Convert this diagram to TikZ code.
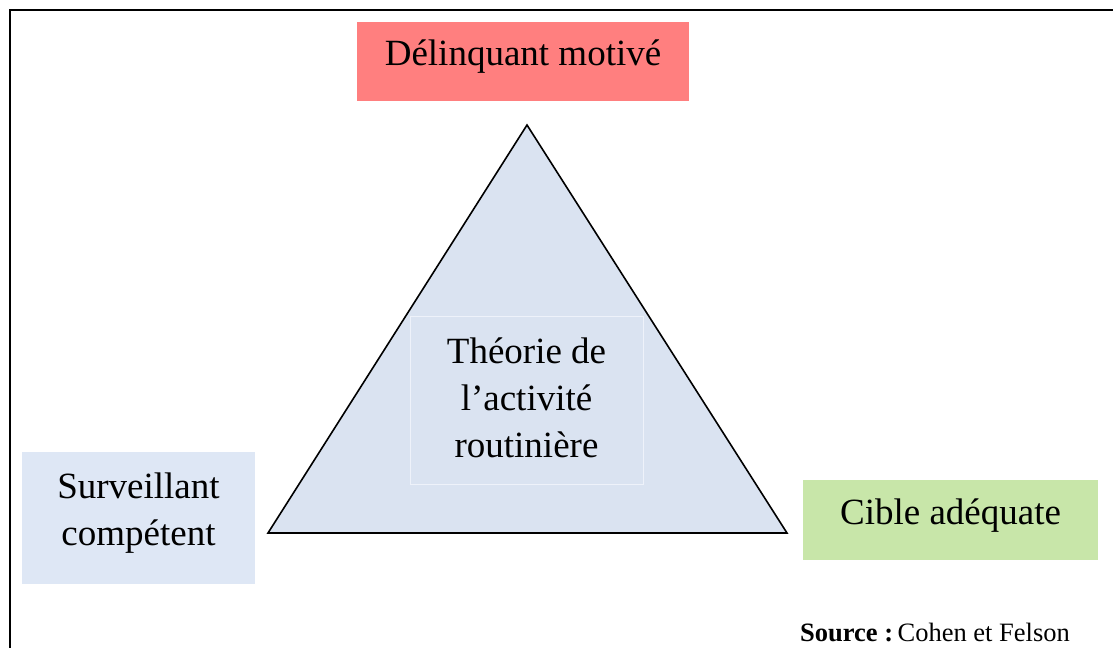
\documentclass[tikz,border=0pt]{standalone}
\usepackage{fontspec}
\setmainfont{Liberation Serif}
\definecolor{redbox}{HTML}{FF7F7F}
\definecolor{bluebox}{HTML}{DEE7F5}
\definecolor{greenbox}{HTML}{C8E6A9}
\definecolor{trifill}{HTML}{DAE3F1}
\definecolor{innerline}{HTML}{EEF2FA}
\begin{document}
\begin{tikzpicture}[x=1pt,y=-1pt,
  lbl/.style={inner sep=0pt,outer sep=0pt,align=center,font=\fontsize{37}{47}\selectfont},
  boxx/.style={inner sep=0pt,outer sep=0pt,draw=none}]
\useasboundingbox (0,0) rectangle (1113,648);
% frame
\coordinate (fr1) at (1113,10);
\coordinate (fr2) at (10,10);
\coordinate (fr3) at (10,648);
\draw[line width=2pt] (fr1) -- (fr2) -- (fr3);
% triangle
\coordinate (apex) at (527,125);
\coordinate (bl) at (268,533);
\coordinate (br) at (787,533);
\draw[fill=trifill,line width=1.6pt,line join=miter] (apex) -- (bl) -- (br) -- cycle;
% inner box
\node[boxx,fill=trifill,draw=innerline,line width=1pt,minimum width=233pt,minimum height=168pt] (theory) at (526.5,400) {};
\node[lbl] (theory-t) at ([yshift=2.5pt]theory.center) {Théorie de\\l’activité\\routinière};
% corner boxes
\node[boxx,fill=redbox,minimum width=332pt,minimum height=79pt] (delinq) at (523,61.5) {};
\node[lbl] (delinq-t) at ([yshift=5pt]delinq.center) {Délinquant motivé};
\node[boxx,fill=bluebox,minimum width=233pt,minimum height=132pt] (surv) at (138.5,518) {};
\node[lbl] (surv-t) at ([yshift=4.5pt]surv.center) {Surveillant\\compétent};
\node[boxx,fill=greenbox,minimum width=295pt,minimum height=80pt] (cible) at (950.5,520) {};
\node[lbl] (cible-t) at ([yshift=4pt]cible.center) {Cible adéquate};
% source
\node[inner sep=0pt,anchor=base west,font=\fontsize{26.5}{30}\selectfont] (src) at (800,641) {\textbf{Source :}\,Cohen et Felson};
\end{tikzpicture}
\end{document}
